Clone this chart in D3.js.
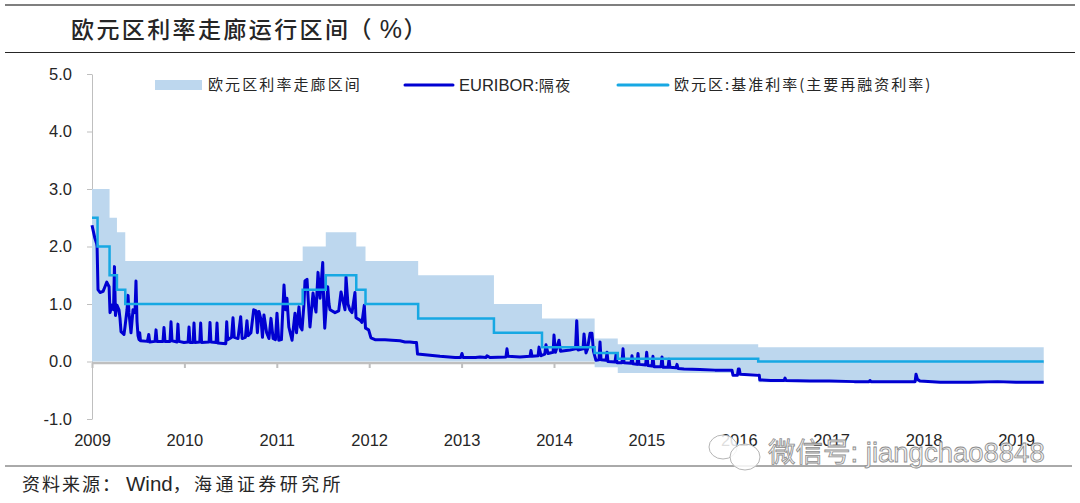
<!DOCTYPE html>
<html>
<head>
<meta charset="utf-8">
<script src="https://cdn.jsdelivr.net/npm/d3@7"></script>
<style>
    html, body { margin: 0; padding: 0; background: #fff; }
    svg { display: block; }
    text { font-family: "Liberation Sans", "Noto Sans CJK SC", sans-serif; fill: #262626; }
    .cjk { font-family: "Noto Sans CJK SC", sans-serif; }
</style>
</head>
<body>
<script>
const titleParts = ["欧元区利率走廊运行区间", "（", "%", "）"];
const legendBand = "欧元区利率走廊区间";
const legendEuribor = ["EURIBOR:", "隔夜"];
const legendRate = "欧元区:基准利率(主要再融资利率)";
const sourceParts = ["资料来源：", "Wind", "，海通证券研究所"];
const watermark = "微信号: jiangchao8848";

const yearTicks = [2009, 2010, 2011, 2012, 2013, 2014, 2015, 2016, 2017, 2018, 2019];
const valueTicks = [-1, 0, 1, 2, 3, 4, 5];

// Dates are fractions of a year, each value holds until the next date
const corridorDates = [2009, 2009.19, 2009.27, 2009.36, 2011.28, 2011.53, 2011.86, 2011.96, 2012.53, 2013.35, 2013.87, 2014.44, 2014.69, 2016.21, 2019.3];
const corridorHigh = [3, 2.5, 2.25, 1.75, 2, 2.25, 2, 1.75, 1.5, 1, 0.75, 0.4, 0.3, 0.25, 0.25];
const corridorLowDates = [2009, 2014.44, 2014.69, 2016.21, 2019.3];
const corridorLow = [0, -0.1, -0.2, -0.36, -0.36];

const refiDates = [2009, 2009.06, 2009.19, 2009.27, 2009.36, 2011.28, 2011.53, 2011.86, 2011.96, 2012.53, 2013.35, 2013.87, 2014.44, 2014.69, 2016.21, 2019.3];
const refiRate = [2.5, 2, 1.5, 1.25, 1, 1.25, 1.5, 1.25, 1, 0.75, 0.5, 0.25, 0.15, 0.05, 0, 0];

const euribor2009 = [
    [2009, 2.37], [2009.03, 2.15], [2009.05, 2.05], [2009.055, 2], [2009.065, 1.25], [2009.087, 1.2], [2009.12, 1.22],
    [2009.14, 1.3], [2009.16, 1.38], [2009.185, 1.3], [2009.195, 0.85], [2009.216, 0.98], [2009.233, 0.9], [2009.243, 1.65],
    [2009.254, 0.8], [2009.27, 0.98], [2009.292, 0.9], [2009.303, 0.75], [2009.314, 0.52], [2009.346, 0.47], [2009.357, 0.6],
    [2009.379, 0.9], [2009.39, 1.15], [2009.4, 0.85], [2009.422, 0.5], [2009.444, 0.9], [2009.465, 0.85], [2009.476, 1.4],
    [2009.487, 0.7], [2009.498, 0.45], [2009.509, 0.38], [2009.516, 0.5], [2009.525, 0.36], [2009.6, 0.35], [2009.614, 0.47],
    [2009.625, 0.34], [2009.682, 0.35], [2009.693, 0.55], [2009.703, 0.35], [2009.768, 0.35], [2009.779, 0.59], [2009.79, 0.35],
    [2009.844, 0.35], [2009.855, 0.69], [2009.866, 0.36], [2009.92, 0.34], [2009.93, 0.65], [2009.94, 0.35], [2009.996, 0.33]
];
const euribor2010 = [
    [2010.04, 0.34], [2010.05, 0.6], [2010.06, 0.33], [2010.094, 0.33], [2010.104, 0.67], [2010.114, 0.33], [2010.166, 0.34],
    [2010.176, 0.67], [2010.186, 0.33], [2010.267, 0.34], [2010.277, 0.68], [2010.287, 0.34], [2010.343, 0.33], [2010.353, 0.67],
    [2010.363, 0.32], [2010.448, 0.31], [2010.458, 0.69], [2010.468, 0.38], [2010.51, 0.42], [2010.526, 0.76], [2010.54, 0.42],
    [2010.58, 0.4], [2010.609, 0.78], [2010.625, 0.4], [2010.66, 0.42], [2010.677, 0.71], [2010.69, 0.45], [2010.72, 0.5],
    [2010.75, 0.9], [2010.775, 0.88], [2010.79, 0.5], [2010.807, 0.87], [2010.83, 0.72], [2010.845, 0.42], [2010.861, 0.81],
    [2010.89, 0.5], [2010.915, 0.4], [2010.937, 0.75], [2010.96, 0.4], [2010.985, 0.38]
];
const euribor2011 = [
    [2011.002, 0.84], [2011.021, 0.37], [2011.05, 0.38], [2011.078, 1.33], [2011.094, 0.9], [2011.11, 1.1], [2011.13, 0.6],
    [2011.165, 0.37], [2011.197, 0.84], [2011.213, 0.5], [2011.24, 0.95], [2011.256, 0.6], [2011.273, 0.55], [2011.294, 1],
    [2011.305, 1.4], [2011.327, 1.43], [2011.343, 1], [2011.359, 0.6], [2011.392, 1.19], [2011.413, 0.95], [2011.424, 0.86],
    [2011.446, 1.55], [2011.468, 1.1], [2011.497, 1.72], [2011.508, 1], [2011.519, 0.58], [2011.533, 0.9], [2011.551, 1.3],
    [2011.565, 1], [2011.576, 0.9], [2011.63, 0.85], [2011.67, 0.88], [2011.695, 1.21], [2011.724, 1], [2011.738, 0.9],
    [2011.749, 1.47], [2011.77, 1], [2011.79, 0.9], [2011.814, 0.85], [2011.846, 1.2], [2011.857, 0.76], [2011.9, 0.72],
    [2011.922, 0.68], [2011.947, 0.98], [2011.96, 0.58], [2011.994, 0.55]
];
const euribor2012 = [
    [2012.019, 0.41], [2012.063, 0.38], [2012.171, 0.38], [2012.247, 0.37], [2012.333, 0.36], [2012.387, 0.34], [2012.44, 0.34],
    [2012.485, 0.33], [2012.512, 0.33], [2012.523, 0.13], [2012.658, 0.11], [2012.766, 0.09], [2012.93, 0.07], [2012.99, 0.07]
];
const euribor2013 = [
    [2013.004, 0.14], [2013.015, 0.07], [2013.15, 0.07], [2013.2, 0.08], [2013.265, 0.07], [2013.275, 0.1], [2013.307, 0.07],
    [2013.48, 0.08], [2013.491, 0.22], [2013.502, 0.09], [2013.632, 0.08], [2013.74, 0.09], [2013.751, 0.19], [2013.762, 0.09],
    [2013.828, 0.1], [2013.838, 0.25], [2013.86, 0.1], [2013.9, 0.13], [2013.913, 0.29], [2013.935, 0.14], [2013.99, 0.16]
];
const euribor2014 = [
    [2014, 0.46], [2014.016, 0.16], [2014.054, 0.37], [2014.07, 0.18], [2014.173, 0.2], [2014.233, 0.22], [2014.246, 0.71],
    [2014.26, 0.2], [2014.314, 0.22], [2014.325, 0.48], [2014.346, 0.15], [2014.363, 0.22], [2014.39, 0.49], [2014.411, 0.49],
    [2014.427, 0.18], [2014.454, 0.02], [2014.487, 0.03], [2014.498, 0.34], [2014.509, 0.03], [2014.563, 0.02], [2014.574, 0.16],
    [2014.584, 0], [2014.66, -0.01], [2014.671, 0.12], [2014.682, -0.02], [2014.736, -0.02], [2014.747, 0.22], [2014.758, -0.02],
    [2014.833, -0.03], [2014.844, 0.1], [2014.855, -0.04], [2014.898, -0.05], [2014.909, 0.14], [2014.92, -0.05], [2014.992, -0.06]
];
const euribor2015 = [
    [2015.003, 0.16], [2015.017, -0.07], [2015.06, -0.08], [2015.071, 0.09], [2015.082, -0.09], [2015.158, -0.09], [2015.169, 0.08],
    [2015.18, -0.1], [2015.234, -0.1], [2015.245, 0.04], [2015.255, -0.1], [2015.32, -0.11], [2015.331, -0.05], [2015.342, -0.12],
    [2015.407, -0.13], [2015.58, -0.14], [2015.742, -0.15], [2015.926, -0.15], [2015.937, -0.24], [2015.985, -0.24]
];
const euribor2016 = [
    [2015.995, -0.13], [2016.005, -0.13], [2016.015, -0.22], [2016.205, -0.24], [2016.222, -0.24], [2016.227, -0.32], [2016.346, -0.33],
    [2016.49, -0.33], [2016.5, -0.29], [2016.511, -0.33], [2016.77, -0.34], [2016.98, -0.34]
];
const euribor2017 = [
    [2017.25, -0.35], [2017.41, -0.35], [2017.42, -0.33], [2017.43, -0.35], [2017.74, -0.35], [2017.908, -0.35], [2017.918, -0.22],
    [2017.934, -0.31], [2017.96, -0.34]
];
const euribor2018 = [
    [2018.18, -0.36], [2018.5, -0.36], [2018.8, -0.35], [2019, -0.36], [2019.3, -0.36]
];

const euribor = [].concat(euribor2009, euribor2010, euribor2011, euribor2012, euribor2013,
    euribor2014, euribor2015, euribor2016, euribor2017, euribor2018);

const width = 1080;
const height = 503;

const x = d3.scaleLinear().domain([2009, 2019]).range([92, 1016]);
const y = d3.scaleLinear().domain([-1, 5]).range([419, 74]);

const svg = d3.select("body").append("svg").attr("width", width).attr("height", height);

// Header and footer rules
svg.append("line").attr("x1", 5).attr("x2", 1075).attr("y1", 5).attr("y2", 5).attr("stroke", "#7f7f7f").attr("stroke-width", 2);
svg.append("line").attr("x1", 5).attr("x2", 1075).attr("y1", 52.5).attr("y2", 52.5).attr("stroke", "#262626");
svg.append("line").attr("x1", 5).attr("x2", 1072).attr("y1", 466).attr("y2", 466).attr("stroke", "#555");

const title = svg.append("text").attr("class", "cjk").attr("x", 71).attr("y", 38)
    .attr("font-size", 23).attr("font-weight", 500).attr("letter-spacing", 2.4);
title.append("tspan").text(titleParts[0]);
title.append("tspan").attr("dx", -2).text(titleParts[1]);
title.append("tspan").style("font-family", "Liberation Sans").attr("dx", 6).attr("font-size", 25).text(titleParts[2]);
title.append("tspan").attr("dx", -1).text(titleParts[3]);

// Corridor band, merged on the dates of both edges
const bandDates = Array.from(new Set(corridorDates.concat(corridorLowDates))).sort(d3.ascending);
const stepValue = (dates, values, t) => values[d3.bisectRight(dates, t) - 1];
const band = bandDates.map(t => ({
    t: t,
    high: stepValue(corridorDates, corridorHigh, t),
    low: stepValue(corridorLowDates, corridorLow, t)
}));

// Axes sit under the band
const xAxis = d3.axisBottom(x).tickValues(yearTicks).tickFormat(d3.format("d")).tickSize(5).tickSizeOuter(0);
const xg = svg.append("g").attr("transform", `translate(0,${y(0) + 1.5})`).call(xAxis);
xg.select(".domain").attr("stroke", "#bfbfbf").attr("stroke-width", 2.5)
    .attr("d", `M${x(2009)},0H${x(2019.3)}`);
xg.selectAll(".tick line").attr("stroke", "#bfbfbf").attr("stroke-width", 2);
xg.selectAll(".tick text").attr("y", 446 - (y(0) + 1.5)).attr("dy", 0).attr("font-size", 16.5).attr("fill", "#262626");

const yAxis = d3.axisLeft(y).tickValues(valueTicks).tickFormat(d3.format(".1f")).tickSize(5).tickSizeOuter(0);
const yg = svg.append("g").attr("transform", `translate(${x(2009)},0)`).call(yAxis);
yg.select(".domain").attr("stroke", "#bfbfbf");
yg.selectAll(".tick line").attr("stroke", "#bfbfbf");
yg.selectAll(".tick text").attr("x", -20).attr("font-size", 16.5).attr("fill", "#262626");
yg.selectAll(".tick text").text(d => d3.format(".1f")(d).replace("−", "-"));

const area = d3.area().x(d => x(d.t)).y0(d => y(d.low)).y1(d => y(d.high)).curve(d3.curveStepAfter);
svg.append("path").datum(band).attr("d", area).attr("fill", "#bdd7ee");

const refiLine = d3.line().x(d => x(d[0])).y(d => y(d[1])).curve(d3.curveStepAfter);
const euriborLine = d3.line().x(d => x(d[0])).y(d => y(d[1]));

svg.append("path").datum(euribor).attr("d", euriborLine)
    .attr("fill", "none").attr("stroke", "#0000d2").attr("stroke-width", 3).attr("stroke-linejoin", "round");
svg.append("path").datum(d3.zip(refiDates, refiRate)).attr("d", refiLine)
    .attr("fill", "none").attr("stroke", "#17a8e3").attr("stroke-width", 2.5);

// Legend
svg.append("rect").attr("x", 155).attr("y", 80).attr("width", 47).attr("height", 10).attr("fill", "#bdd7ee");
svg.append("text").attr("class", "cjk").attr("x", 208).attr("y", 90)
    .attr("font-size", 15).attr("letter-spacing", 2.1).text(legendBand);

svg.append("line").attr("x1", 405).attr("x2", 453).attr("y1", 85).attr("y2", 85)
    .attr("stroke", "#0000d2").attr("stroke-width", 3).attr("stroke-linecap", "round");
const eurLabel = svg.append("text").attr("x", 459).attr("y", 91).attr("font-size", 16.5);
eurLabel.append("tspan").text(legendEuribor[0]);
eurLabel.append("tspan").attr("class", "cjk").attr("font-size", 15).attr("letter-spacing", 1.5).text(legendEuribor[1]);

svg.append("line").attr("x1", 618).attr("x2", 668).attr("y1", 85).attr("y2", 85)
    .attr("stroke", "#17a8e3").attr("stroke-width", 3).attr("stroke-linecap", "round");
svg.append("text").attr("class", "cjk").attr("x", 674).attr("y", 90)
    .attr("font-size", 15).attr("letter-spacing", 2).text(legendRate);

// Source line
const source = svg.append("text").attr("y", 491).attr("x", 22).attr("font-size", 18);
source.append("tspan").attr("class", "cjk").attr("letter-spacing", 2).text(sourceParts[0]);
source.append("tspan").attr("font-size", 20.5).attr("dx", 4).text(sourceParts[1]);
source.append("tspan").attr("class", "cjk").attr("letter-spacing", 3.4).text(sourceParts[2]);

// WeChat watermark over the last year labels
const wm = svg.append("g");
const bubble = (cx, cy, rx, ry) => wm.append("ellipse").attr("cx", cx).attr("cy", cy).attr("rx", rx).attr("ry", ry)
    .attr("fill", "#fff").attr("fill-opacity", 0.85).attr("stroke", "#b5b5b5");
bubble(723, 447, 14, 12);
bubble(745, 457, 15, 13);
wm.append("text").attr("x", 768).attr("y", 462).attr("font-size", 27.5)
    .style("fill", "#efefef").attr("stroke", "#8c8c8c").attr("stroke-width", 0.8)
    .text(watermark);
</script>
</body>
</html>
